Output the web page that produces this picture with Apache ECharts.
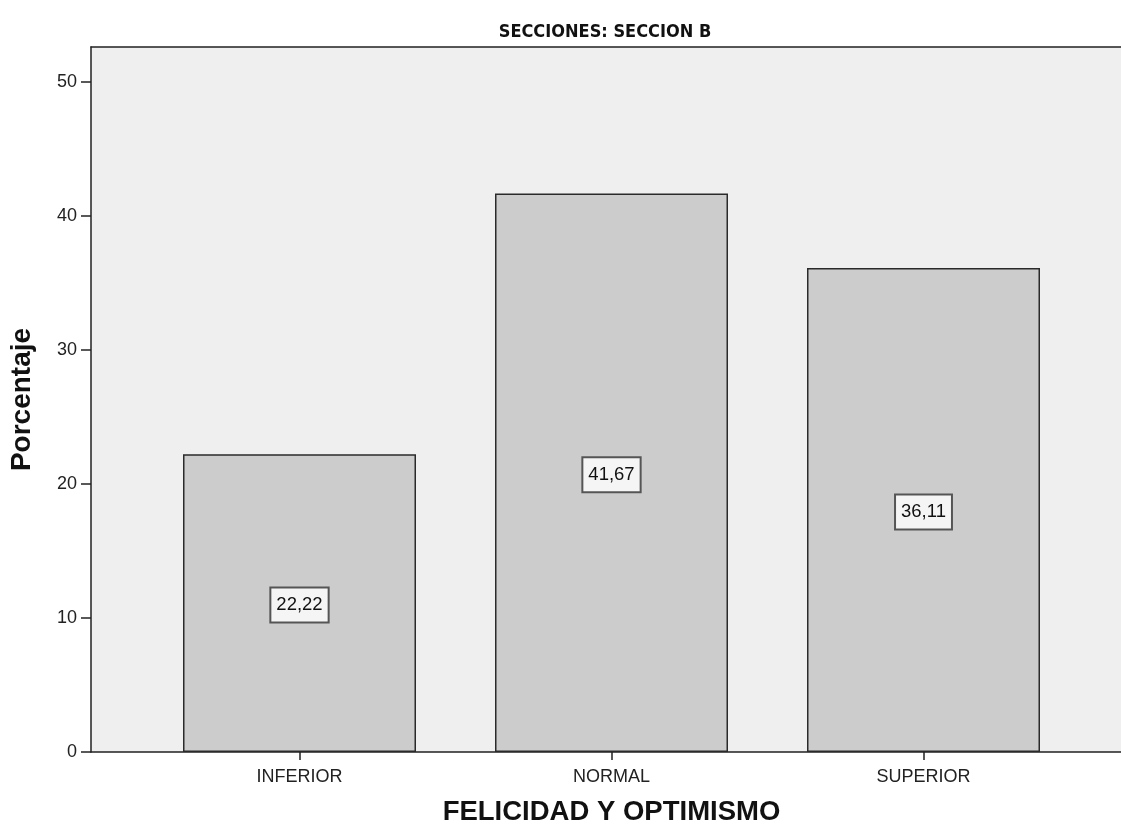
<!DOCTYPE html>
<html>
<head>
<meta charset="utf-8">
<script src="https://cdn.jsdelivr.net/npm/echarts@6/dist/echarts.min.js"></script>
<style>html,body{margin:0;padding:0;background:#fff;}#c{width:1121px;height:832px;}</style>
</head>
<body>
<div id="c"></div>
<script>
var categories = ['INFERIOR', 'NORMAL', 'SUPERIOR'];
var percentages = [22.22, 41.67, 36.11];
var yTicks = [0, 10, 20, 30, 40, 50];
var titleText = 'SECCIONES: SECCION B';
var xName = 'FELICIDAD Y OPTIMISMO';
var yName = 'Porcentaje';

var chart = echarts.init(document.getElementById('c'));
var font = 'Liberation Sans, Arial, sans-serif';
var narrow = 'DejaVu Sans Condensed, Liberation Sans, sans-serif';
var yMax = 52.6;
chart.setOption({
  animation: false,
  title: {
    text: titleText, left: 600, textAlign: 'center', top: 18,
    textStyle: {fontFamily: narrow, fontWeight: 'bold', fontSize: 18, color: '#111'}
  },
  grid: [
    {left: 91, right: 0, top: 47, bottom: 80, show: true, backgroundColor: '#EFEFEF', borderWidth: 0},
    {left: 143.5, width: 936, top: 47, bottom: 80}
  ],
  xAxis: [
    {gridIndex: 0, type: 'value', min: 0, max: 1, position: 'bottom',
     axisLine: {show: true, lineStyle: {color: '#222', width: 1.5}},
     axisTick: {show: false}, axisLabel: {show: false}, splitLine: {show: false}},
    {gridIndex: 0, type: 'value', min: 0, max: 1, position: 'top',
     axisLine: {show: true, lineStyle: {color: '#222', width: 1.5}},
     axisTick: {show: false}, axisLabel: {show: false}, splitLine: {show: false}},
    {gridIndex: 1, type: 'category', data: categories,
     axisLine: {show: false},
     axisTick: {show: true, alignWithLabel: true, length: 8, lineStyle: {color: '#222', width: 1.5}},
     axisLabel: {fontFamily: font, fontSize: 18, color: '#222', margin: 16},
     splitLine: {show: false},
     name: xName, nameLocation: 'middle', nameGap: 46,
     nameTextStyle: {fontFamily: font, fontWeight: 'bold', fontSize: 27.5, color: '#111'}}
  ],
  yAxis: [
    {gridIndex: 0, type: 'value', min: 0, max: yMax,
     axisLine: {show: true, lineStyle: {color: '#222', width: 1.5}},
     axisTick: {show: true, length: 10, customValues: yTicks, lineStyle: {color: '#222', width: 1.5}},
     axisLabel: {customValues: yTicks, fontFamily: font, fontSize: 18, color: '#222', margin: 14},
     splitLine: {show: false},
     name: yName, nameLocation: 'middle', nameGap: 55, nameRotate: 90,
     nameTextStyle: {fontFamily: font, fontWeight: 'bold', fontSize: 28, color: '#111'}},
    {gridIndex: 1, type: 'value', min: 0, max: yMax, show: false}
  ],
  series: [{
    type: 'bar', xAxisIndex: 2, yAxisIndex: 1, data: percentages, barWidth: 233,
    itemStyle: {color: '#CCCCCC', borderColor: '#2a2a2a', borderWidth: 1.5},
    label: {
      show: true, position: 'inside',
      formatter: function (p) { return p.value.toFixed(2).replace('.', ','); },
      fontFamily: font, fontSize: 18.5, color: '#111', offset: [0, 2],
      backgroundColor: '#F5F5F5', borderColor: '#555', borderWidth: 2, padding: [8, 5, 6, 5]
    }
  }]
});
</script>
</body>
</html>
